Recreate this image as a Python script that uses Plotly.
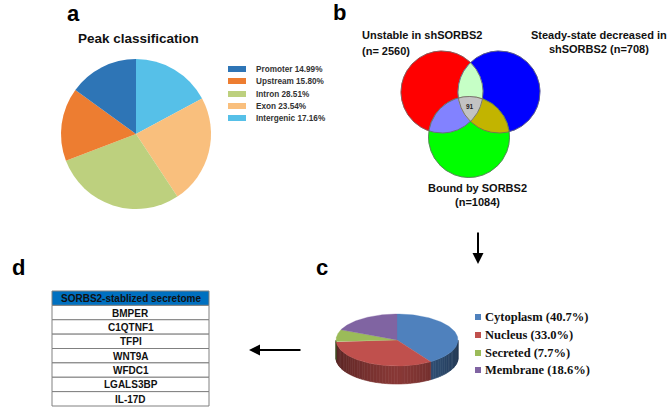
import numpy as np
import plotly.graph_objects as go

# ---------------- data ----------------
# Panel a: peak classification
peak_labels = ["Promoter", "Upstream", "Intron", "Exon", "Intergenic"]
peak_values = [14.99, 15.80, 28.51, 23.54, 17.16]
peak_colors = ["#2E75B6", "#ED7D31", "#BDD07E", "#F9BF7D", "#56C0E8"]

# Panel b: Venn sets
venn_names = ["Unstable in shSORBS2", "Steady-state decreased in<br>shSORBS2", "Bound by SORBS2"]
venn_sizes = [2560, 708, 1084]
venn_core = 91

# Panel c: subcellular localisation
loc_labels = ["Cytoplasm", "Nucleus", "Secreted", "Membrane"]
loc_values = [40.7, 33.0, 7.7, 18.6]
loc_colors = ["#4F81BD", "#C0504D", "#9BBB59", "#8064A2"]

# Panel d: table
table_header = "SORBS2-stablized secretome"
table_genes = ["BMPER", "C1QTNF1", "TFPI", "WNT9A", "WFDC1", "LGALS3BP", "IL-17D"]

W, H = 672, 409
SANS = "Liberation Sans, Arial, sans-serif"
SERIF = "Liberation Serif, Times New Roman, serif"

fig = go.Figure()

# ---------------- panel a: pie ----------------
pcx, pcy, pr = 136, 134, 75
fig.add_trace(go.Pie(
    labels=peak_labels[::-1], values=peak_values[::-1], sort=False, direction="clockwise",
    rotation=0, marker=dict(colors=peak_colors[::-1], line=dict(width=0)),
    textinfo="none", hoverinfo="skip", showlegend=False,
    domain=dict(x=[(pcx - pr) / W, (pcx + pr) / W], y=[1 - (pcy + pr) / H, 1 - (pcy - pr) / H]),
))

shapes = []
annotations = []


def ann(x, y, text, size, family=SANS, bold=True, xanchor="center", color="#111", align="center"):
    annotations.append(dict(
        x=x, y=y, xref="x", yref="y", text=("<b>%s</b>" % text) if bold else text,
        showarrow=False, xanchor=xanchor, yanchor="middle", align=align,
        font=dict(family=family, size=size, color=color),
    ))

ann(73, 13, "a", 22, color="#000")
ann(339, 12, "b", 22, color="#000")
ann(322, 267, "c", 22, color="#000")
ann(18, 267, "d", 22, color="#000")
ann(138, 38, "Peak classification", 13.5, color="#111")

leg_rows = [69, 81, 94, 106, 118]
for lab, val, col, yy in zip(peak_labels, peak_values, peak_colors, leg_rows):
    shapes.append(dict(type="rect", xref="x", yref="y", x0=228, x1=246, y0=yy - 3, y1=yy + 3,
                       fillcolor=col, line=dict(width=0)))
    ann(254, yy, "%s %.2f%%" % (lab, val), 8.2, xanchor="left", color="#333")

# ---------------- panel b: Venn ----------------
circles = [(442, 92, 41), (499, 92, 41), (469, 137, 40.5)]
base_cols = ["#FF0000", "#0000FF", "#00FF00"]


def region(cs, n=1440):
    pts = []
    for i, (cx, cy, r) in enumerate(cs):
        t = np.linspace(0, 2 * np.pi, n, endpoint=False)
        x = cx + r * np.cos(t)
        y = cy + r * np.sin(t)
        m = np.ones(n, bool)
        for j, (ox, oy, orr) in enumerate(cs):
            if j != i:
                m &= (x - ox) ** 2 + (y - oy) ** 2 <= orr ** 2 + 1e-6
        pts += list(zip(x[m], y[m]))
    p = np.array(pts)
    c = p.mean(axis=0)
    o = np.argsort(np.arctan2(p[:, 1] - c[1], p[:, 0] - c[0]))
    p = p[o]
    return np.append(p[:, 0], p[0, 0]), np.append(p[:, 1], p[0, 1])


def poly(x, y, fill, line_col=None, lw=0.0):
    fig.add_trace(go.Scatter(x=x, y=y, mode="lines", fill="toself", fillcolor=fill,
                             line=dict(color=line_col or fill, width=lw), hoverinfo="skip",
                             showlegend=False, xaxis="x", yaxis="y"))

for c, col in zip(circles, base_cols):
    x, y = region([c])
    poly(x, y, col, lw=0.5)
pair_cols = {(0, 1): "#C6FFC6", (0, 2): "#8282FF", (1, 2): "#C2B400"}
for (i, j), col in pair_cols.items():
    x, y = region([circles[i], circles[j]])
    poly(x, y, col, lw=0.5)
x, y = region(circles)
poly(x, y, "#C3C3C3", lw=0.5)
for c in circles:
    x, y = region([c])
    fig.add_trace(go.Scatter(x=x, y=y, mode="lines", line=dict(color="#666", width=0.8),
                             hoverinfo="skip", showlegend=False))
ann(470, 106, str(venn_core), 6.5, color="#222")

ann(360, 35, venn_names[0], 11, xanchor="left", color="#111")
ann(360, 51, "(n= %d)" % venn_sizes[0], 11, xanchor="left", color="#111")
ann(599, 42, "%s (n=%d)" % (venn_names[1], venn_sizes[1]), 11, color="#111")
ann(477, 195, "%s<br>(n=%d)" % (venn_names[2], venn_sizes[2]), 11, color="#111")

# arrows
annotations.append(dict(x=478, y=264, ax=478, ay=231, xref="x", yref="y", axref="x", ayref="y",
                        text="", showarrow=True, arrowhead=2, arrowsize=1.1, arrowwidth=2,
                        arrowcolor="#000"))
annotations.append(dict(x=249, y=350, ax=302, ay=350, xref="x", yref="y", axref="x", ayref="y",
                        text="", showarrow=True, arrowhead=2, arrowsize=1.1, arrowwidth=2,
                        arrowcolor="#000"))

# ---------------- panel c: 3D pie ----------------
ccx, ccy, ca, cb, depth = 397, 340, 61, 26, 18


def hex2rgb(h):
    h = h.lstrip("#")
    return [int(h[k:k + 2], 16) for k in (0, 2, 4)]


def ell(th):
    th = np.radians(th)
    return ccx + ca * np.sin(th), ccy - cb * np.cos(th)

bounds = np.concatenate([[0], np.cumsum(loc_values) / np.sum(loc_values) * 360])
for k, col in enumerate(loc_colors):
    s, e = max(bounds[k], 90), min(bounds[k + 1], 270)
    if e <= s:
        continue
    steps = np.linspace(s, e, max(2, int((e - s) / 3) + 2))
    rgb = hex2rgb(col)
    for t0, t1 in zip(steps[:-1], steps[1:]):
        tm = 0.5 * (t0 + t1)
        f = 0.42 + 0.3 * (1 - abs(tm - 180) / 90)
        cc = "rgb(%d,%d,%d)" % tuple(int(v * f) for v in rgb)
        tt = np.linspace(t0, t1, 4)
        xt, yt = ell(tt)
        xs = np.concatenate([xt, xt[::-1], xt[:1]])
        ys = np.concatenate([yt, yt[::-1] + depth, yt[:1]])
        poly(xs, ys, cc, lw=0.6)
for k, col in enumerate(loc_colors):
    tt = np.linspace(bounds[k], bounds[k + 1], 80)
    xt, yt = ell(tt)
    xs = np.concatenate([[ccx], xt, [ccx]])
    ys = np.concatenate([[ccy], yt, [ccy]])
    poly(xs, ys, col, lw=0.3)

leg_c_rows = [317, 335, 353, 370]
for lab, val, col, yy in zip(loc_labels, loc_values, loc_colors, leg_c_rows):
    shapes.append(dict(type="rect", xref="x", yref="y", x0=475, x1=481, y0=yy - 3, y1=yy + 3,
                       fillcolor=col, line=dict(width=0)))
    ann(483, yy, "%s (%.1f%%)" % (lab, val), 12.5, family=SERIF, xanchor="left", color="#111")

# ---------------- panel d: table ----------------
tx0, tx1, ty0, ty1 = 52, 209, 291, 406
rows = [table_header] + table_genes
rowh = (ty1 - ty0) / len(rows)
for r, txt in enumerate(rows):
    y0 = ty0 + r * rowh
    shapes.append(dict(type="rect", xref="x", yref="y", x0=tx0, x1=tx1, y0=y0, y1=y0 + rowh,
                       fillcolor="#0070C0" if r == 0 else "white",
                       line=dict(color="#808080", width=1)))
    ann((tx0 + tx1) / 2, y0 + rowh / 2 + 0.5, txt, 10, color="#111")

fig.update_layout(
    width=W, height=H, margin=dict(l=0, r=0, t=0, b=0),
    paper_bgcolor="white", plot_bgcolor="white",
    xaxis=dict(range=[0, W], domain=[0, 1], visible=False, fixedrange=True),
    yaxis=dict(range=[H, 0], domain=[0, 1], visible=False, fixedrange=True),
    shapes=shapes, annotations=annotations, showlegend=False,
)

fig.write_html("out.html", config={"displayModeBar": False},
               post_script="document.body.style.margin='0';document.body.style.overflow='hidden';")
